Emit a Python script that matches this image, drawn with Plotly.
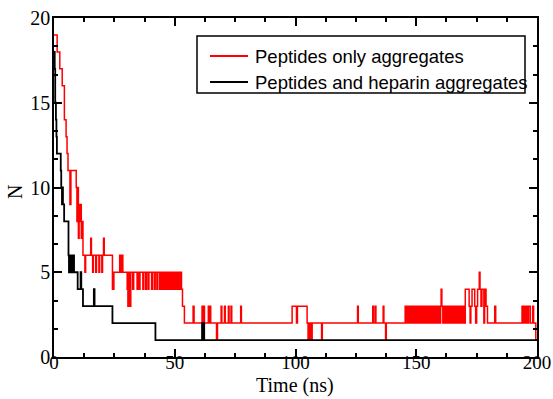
import plotly.graph_objects as go

# Peptides only aggregates (red), step data: time (ns), N
red_t = [0, 1.3, 2.4, 3.4, 4.3, 5.0, 5.4, 5.8, 6.6, 7.0, 9.2, 9.5, 9.8, 10.1, 10.4, 10.7, 11.0, 11.3, 11.6,
         12.0, 12.8, 13.1, 15.2, 15.5, 16.0, 16.3, 17.3, 17.6, 18.6, 18.9, 19.8, 20.1, 20.5, 20.8,
         24.2, 24.8, 27.2, 27.6, 28.2, 28.5, 30.3, 30.6, 30.9, 31.5, 31.8,
         32.6, 33.0, 34.4, 34.8, 35.3, 35.6, 36.8, 37.1, 37.9, 38.2, 38.9, 39.3, 40.4, 40.7, 41.5, 41.9,
         42.6, 42.9, 43.7, 44.0, 44.4, 44.8, 45.3, 45.6, 46.1, 46.5, 47.0, 47.3, 47.7, 48.1, 48.5, 48.8,
         49.2, 49.6, 50.2, 50.5, 51.0, 51.3, 51.9, 52.3, 52.8, 53.2, 54.0,
         57.6, 58.0, 61.3, 61.7, 61.9, 62.3, 63.9, 64.3, 64.6, 64.9, 67.3, 67.7, 69.2, 69.5, 70.6, 70.9,
         72.2, 72.5, 73.3, 73.6, 77.3, 77.6, 98.6, 100.4, 100.8, 104.8, 105.2, 105.5, 105.7, 106.0,
         106.6, 106.9, 110.8, 111.1, 125.7, 126.0, 132.0, 132.3, 133.0, 133.3, 136.3, 136.6, 137.3, 137.6,
         145.4, 145.8, 146.1, 146.6, 146.9, 147.2, 147.6, 148.2, 148.5, 148.9, 149.3, 149.9, 150.3, 150.7,
         151.0, 151.6, 151.9, 152.3, 152.8, 153.4, 153.7, 154.2, 154.6, 155.0, 155.5, 156.1, 156.4, 156.9,
         157.3, 157.7, 158.2, 158.8, 159.1, 159.6, 160.1, 160.3, 160.6, 161.0, 161.4, 161.9, 162.3, 162.7,
         163.1, 163.6, 164.0, 164.5, 164.9, 165.3, 165.8, 166.4, 166.7, 167.2, 167.6, 168.1, 168.5, 169.0,
         169.4, 169.8, 170.3, 171.9, 172.3, 172.6, 173.1, 174.2, 174.6, 175.0, 175.4, 176.1, 176.4, 176.8,
         177.2, 178.0, 178.3, 178.9, 179.5, 182.5, 182.9, 193.8, 194.2, 194.6, 195.2, 195.6, 196.1, 196.5,
         197.2, 198.2, 198.6, 199.5, 200]
red_n = [19, 18, 17, 16, 14, 13, 12, 11, 9, 11, 10, 8, 10, 7, 9, 8, 9, 7, 8,
         6, 5, 6, 7, 6, 5, 6, 5, 6, 5, 6, 5, 6, 7, 6,
         4, 5, 6, 5, 6, 5, 4, 3, 5, 3, 5,
         4, 5, 4, 5, 4, 5, 4, 5, 4, 5, 4, 5, 4, 5, 4, 5,
         4, 5, 4, 5, 4, 5, 4, 5, 4, 5, 4, 5, 4, 5, 4, 5,
         4, 5, 4, 5, 4, 5, 4, 5, 4, 3, 2,
         3, 2, 3, 2, 3, 2, 3, 2, 3, 2, 1, 2, 3, 2, 3, 2,
         3, 2, 3, 2, 3, 2, 3, 2, 3, 2, 1, 2, 1, 2,
         1, 2, 1, 2, 3, 2, 3, 2, 3, 2, 3, 2, 1, 2,
         3, 2, 3, 2, 3, 2, 3, 2, 3, 2, 3, 2, 3, 2,
         3, 2, 3, 2, 3, 2, 3, 2, 3, 2, 3, 2, 3, 2,
         3, 2, 3, 2, 3, 2, 3, 4, 3, 2, 3, 2, 3, 2,
         3, 2, 3, 2, 3, 2, 3, 2, 3, 2, 3, 2, 3, 2,
         3, 2, 4, 3, 2, 3, 4, 3, 2, 3, 4, 5, 4, 3,
         4, 2, 4, 3, 2, 3, 2, 3, 2, 3, 2, 3, 2, 3,
         2, 3, 2, 1, 1]

# Peptides and heparin aggregates (black)
blk_t = [0, 0.3, 0.5, 0.8, 1.0, 1.2, 2.8, 3.0, 3.3, 3.5, 3.7, 4.2, 6.0, 6.2, 6.6, 6.9, 7.3, 7.6, 8.0, 8.3,
         9.8, 11.0, 11.3, 12.0, 16.5, 16.8, 24.2, 42.0, 61.3, 61.6, 61.9, 62.2, 200]
blk_n = [18, 17, 15, 14, 13, 12, 11, 10, 9, 10, 9, 8, 6, 5, 6, 5, 6, 5, 6, 5,
         4, 5, 4, 3, 4, 3, 2, 1, 2, 1, 2, 1, 1]

series_names = ["Peptides only aggregates", "Peptides and heparin aggregates"]
series_colors = ["#ff0000", "#000000"]

x_ticks = [0, 50, 100, 150, 200]
y_ticks = [0, 5, 10, 15, 20]
x_title = "Time (ns)"
y_title = "N"

serif = "Liberation Serif"
sans = "Liberation Sans"

W, H = 553, 399
ML, MR, MT, MB = 54, 16, 18, 42
PW, PH = W - ML - MR, H - MT - MB


def px(xp):
    return (xp - ML) / PW


def py(yp):
    return (H - MB - yp) / PH


fig = go.Figure()
fig.add_trace(go.Scatter(x=red_t, y=red_n, mode="lines", name=series_names[0],
                         line=dict(color=series_colors[0], width=1.5, shape="hv")))
fig.add_trace(go.Scatter(x=blk_t, y=blk_n, mode="lines", name=series_names[1],
                         line=dict(color=series_colors[1], width=1.8, shape="hv")))

axis_common = dict(
    showline=True, linecolor="black", linewidth=1.5, mirror="allticks",
    ticks="inside", ticklen=8, tickwidth=1.5, tickcolor="black",
    showgrid=False, zeroline=False, automargin=False,
)

# custom legend box
shapes = [dict(type="rect", xref="paper", yref="paper", x0=px(197), x1=px(525), y0=py(93), y1=py(36),
               line=dict(color="black", width=1.5), fillcolor="white", layer="above")]
annotations = []
for i, (nm, col) in enumerate(zip(series_names, series_colors)):
    yc = 56 + 26 * i
    shapes.append(dict(type="line", xref="paper", yref="paper", x0=px(210), x1=px(248), y0=py(yc), y1=py(yc),
                       line=dict(color=col, width=1.8), layer="above"))
    annotations.append(dict(xref="paper", yref="paper", x=px(253), y=py(yc), xanchor="left", yanchor="middle",
                            text=nm, showarrow=False, font=dict(family=sans, size=18.5, color="black")))

# axis titles
annotations.append(dict(xref="paper", yref="paper", x=px(295), y=py(385), xanchor="center", yanchor="middle",
                        text=x_title, showarrow=False, font=dict(family=serif, size=20, color="black")))
annotations.append(dict(xref="paper", yref="paper", x=px(15), y=py(192), xanchor="center", yanchor="middle",
                        text=y_title, textangle=-90, showarrow=False,
                        font=dict(family=serif, size=20, color="black")))

fig.update_layout(
    width=W, height=H,
    margin=dict(l=ML, r=MR, t=MT, b=MB, autoexpand=False),
    paper_bgcolor="white", plot_bgcolor="white",
    showlegend=False,
    shapes=shapes, annotations=annotations,
    xaxis=dict(range=[0, 200], tickvals=x_ticks, ticktext=[str(v) for v in x_ticks],
               minor=dict(dtick=12.5, tick0=0, ticks="inside", ticklen=4, tickwidth=1.5, tickcolor="black"),
               ticklabelstandoff=-13, tickfont=dict(family=serif, size=19, color="black"),
               **axis_common),
    yaxis=dict(range=[0, 20], tickvals=y_ticks, ticktext=[str(v) for v in y_ticks],
               minor=dict(dtick=5/3, tick0=0, ticks="inside", ticklen=4, tickwidth=1.5, tickcolor="black"),
               ticklabelstandoff=-2, tickfont=dict(family=serif, size=20, color="black"),
               **axis_common),
)

fig.write_html("out.html")
